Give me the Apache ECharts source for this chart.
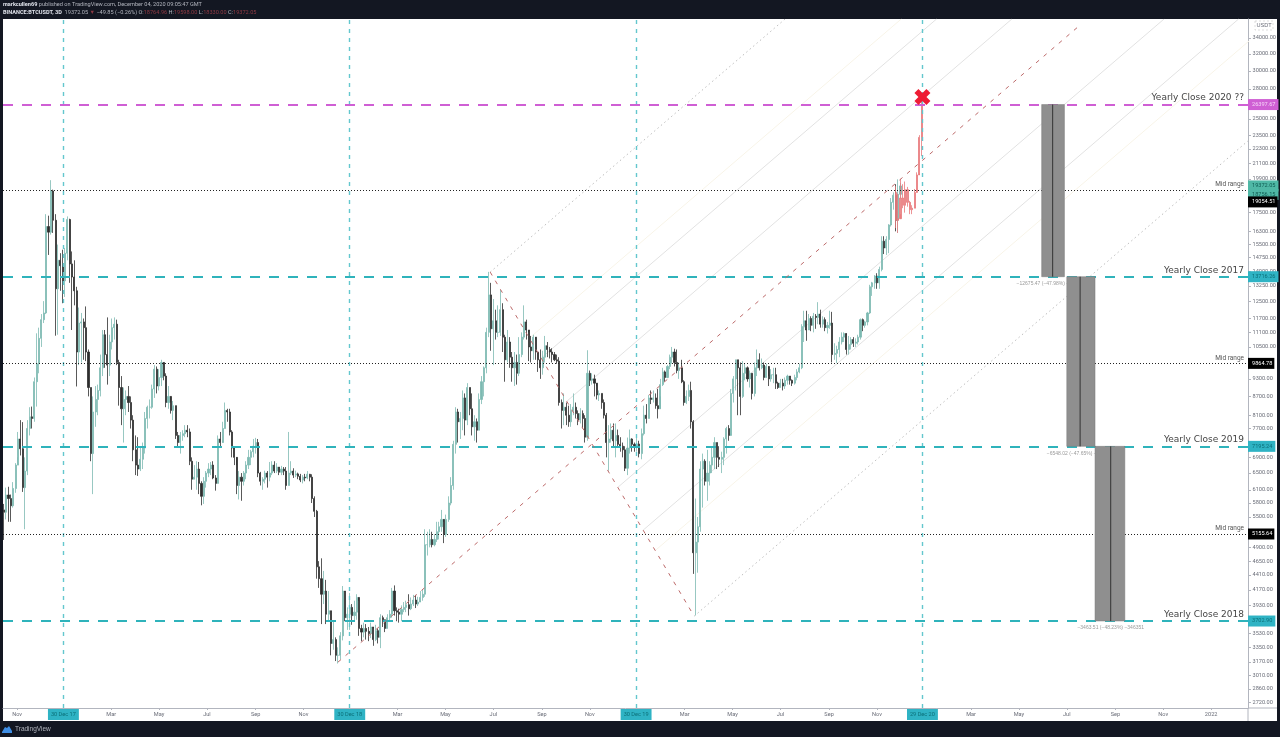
<!DOCTYPE html>
<html>
<head>
<meta charset="utf-8">
<title>BTCUSDT 3D</title>
<style>
  html, body { margin: 0; padding: 0; background: #fff; }
  #main { width: 1280px; height: 737px; }
</style>
<script src="https://cdn.jsdelivr.net/npm/echarts@6/dist/echarts.min.js"></script>
</head>
<body>
<div id="main"></div>
<script>
// 3 day bars. open of a bar = close of the bar before
var firstBarDate = '2017-10-15';
var firstOpen = 5650;
var closes = [
  5600,5980,5900,5740,6130,6700,7400,7130,6150,6550,
  7700,8050,8000,9200,9850,10850,11650,11950,16600,16250,
  19000,17000,13100,14600,14300,13500,15000,17050,14400,13700,
  13000,10300,11500,11550,11300,10300,9000,7000,8200,8600,
  8900,9700,11000,10200,9800,10700,11300,11450,9900,9000,
  8300,8600,8700,8500,7950,7100,6700,6600,6850,7150,
  8000,8350,8350,8950,9650,9050,9350,9900,9400,8500,
  8700,8250,8400,7500,7300,7500,7550,7650,7600,6800,
  6350,6400,6600,6250,5950,6300,6500,6600,6700,6380,
  6250,7400,7300,7700,8250,8200,7600,7150,6900,6200,
  6400,6300,6500,6700,6900,7050,7200,7300,6500,6300,
  6350,6500,6400,6500,6700,6550,6650,6520,6600,6550,
  6200,6500,6550,6450,6480,6420,6330,6400,6380,6470,
  6400,5900,5620,4550,4350,4100,4150,3800,3850,3400,
  3450,3250,3250,3500,4150,3750,3800,3900,3780,3830,
  4050,3600,3550,3600,3560,3530,3620,3450,3570,3480,
  3750,3720,3600,3750,3800,4150,3850,3830,3800,3870,
  3900,3940,3880,3950,4010,3950,3980,4050,4100,4950,
  4950,5050,4950,5050,5200,5300,5450,5150,5450,5800,
  6200,7250,8200,7900,8000,8650,7950,9000,8300,7750,
  7900,7650,8600,9200,9700,11100,12800,11250,11600,11100,
  11100,12100,10900,10000,10700,10100,9700,9900,9500,10200,
  10900,11550,11200,10500,10350,10900,10300,10000,9700,10100,
  10550,10400,10300,10200,10000,9950,8500,8250,8350,8100,
  7900,8250,8350,8150,7950,8150,8000,7450,9500,9250,
  9300,9150,8750,8800,8500,8100,7300,7400,7650,7350,
  7500,7250,7200,7100,6620,7150,7400,7250,7200,7260,
  7000,7550,8100,8000,8650,8600,8650,8400,8300,9100,
  9550,9350,9750,10100,10300,9900,9600,9700,9200,8500,
  8700,8900,7900,4800,5000,5300,6600,6800,6300,6500,
  6700,6900,7300,6900,6850,6900,7400,7700,7500,8800,
  9300,10000,9700,8700,9500,9700,9300,9500,8800,9700,
  10000,9700,9800,9350,9750,9300,9450,9450,9150,9000,
  9150,9050,9250,9400,9250,9150,9350,9550,9700,11350,
  11600,11200,11700,11400,11800,11750,11900,11450,11650,11300,
  11400,11500,10200,10250,10400,10700,10900,11050,10400,10600,
  10800,10650,10700,10900,11650,11400,11550,11950,13200,13400,
  13750,13400,14100,15700,15300,15800,16700,18200,18700,17000,18764.96,19372.05
];
var highs = [
  5780,6150,6170,5990,6280,6750,7600,7950,7890,6900,
  7950,8350,8370,9350,11060,11300,11900,12500,17400,17300,
  19800,19100,17400,15500,15000,15200,15300,17250,17100,15100,
  14600,13200,12200,11950,11700,12250,10400,9000,8700,9050,
  9100,10200,11200,11200,11750,11000,11700,11750,11650,10000,
  9400,9000,8900,9050,8700,8100,7500,7450,7200,7300,
  8200,8400,8600,9100,9800,9750,9650,10000,9800,9500,
  9050,8500,8550,8400,7600,7600,7650,7800,7800,7700,
  6900,6700,6800,6780,6300,6400,6550,6750,6780,6800,
  6450,7500,7600,7900,8500,8300,8300,7650,7200,6700,
  6550,6500,6550,6800,7100,7100,7400,7430,7400,6530,
  6400,6560,6550,6780,6800,6800,6750,6650,6680,6650,
  6650,7600,6800,6620,6560,6510,6480,6450,6480,6550,
  6480,6470,5950,5650,4650,4700,4480,4330,4150,3850,
  3700,3480,3350,3550,4230,4140,3900,4120,3950,4000,
  4100,4000,3650,3680,3660,3620,3680,3600,3650,3600,
  3800,3780,3700,3800,3860,4200,4240,3900,3880,3930,
  3980,4000,4100,4050,4090,4090,4060,4150,4170,5250,
  5200,5250,5200,5150,5400,5400,5650,5400,5550,5950,
  6400,7350,8350,8300,8200,8900,8800,9150,9000,8800,
  8100,8000,8800,9400,9750,11300,13970,13400,12600,12100,
  12300,13050,12400,11000,11200,10900,10300,10300,10200,10900,
  11100,12300,11650,11100,10950,11000,10800,10300,10400,10350,
  10950,10700,10500,10450,10300,10200,10100,8600,8800,8500,
  8400,8450,8800,8500,8250,8320,8250,8100,10370,9600,
  9500,9450,9050,8900,8800,8600,8170,7800,7850,7850,
  7850,7670,7450,7300,7200,7440,7670,7420,7300,7430,
  7350,7700,8400,8450,8750,8900,8900,8800,8950,9300,
  9700,9600,9800,10200,10500,10430,10400,9900,10000,9250,
  8900,9100,9200,7950,5900,5500,6800,7000,6850,7100,
  6800,7200,7450,7300,7200,7050,7450,7750,7800,8950,
  9400,10000,10000,9900,9950,9850,9750,9600,9500,9900,
  10400,10250,10050,9900,9850,9400,9650,9700,9700,9200,
  9300,9300,9350,9450,9400,9280,9450,9650,9850,11450,
  12050,12050,11900,11800,11950,11900,12450,12100,11800,11750,
  11550,12050,12000,10650,10550,10900,11100,11100,11000,10950,
  10900,10900,10850,11000,11700,11700,11600,12000,13300,13450,
  13800,13900,14250,16000,16000,16000,16750,18500,18900,19500,19863,19598
];
var lows = [
  5040,5450,5400,5400,5700,6030,6900,6950,6050,5250,
  6450,7500,7700,7900,8370,9500,10500,11500,11900,14900,
  16100,16200,10960,11000,13000,12400,12700,14600,13400,11200,
  12300,9035,9800,9900,10000,9950,8700,6800,6000,7750,
  8100,8700,9400,9700,9100,9400,10400,10800,9800,8400,
  7800,7300,8100,8200,7700,6800,6450,6430,6550,6600,
  7000,7700,8000,8300,8650,8800,8900,9050,9250,8350,
  8300,8150,7950,7400,7150,7000,7350,7450,7450,6700,
  6100,6350,6100,6000,5750,5780,6150,6400,6450,6350,
  6080,6250,7200,7350,7700,7900,7500,6900,6700,6000,
  5880,5850,6200,6350,6600,6700,6900,7000,6400,6200,
  6100,6250,6150,6300,6450,6500,6500,6450,6450,6450,
  6100,6200,6450,6380,6400,6350,6280,6250,6300,6350,
  6300,5800,5500,4350,4200,3660,3950,3660,3700,3250,
  3320,3180,3150,3200,3440,3700,3580,3580,3650,3700,
  3720,3500,3430,3480,3450,3430,3470,3370,3430,3400,
  3340,3620,3550,3600,3700,3750,3780,3700,3680,3700,
  3830,3830,3780,3860,3920,3890,3920,4000,4000,4060,
  4750,4900,4900,4920,5000,5050,5200,4980,5100,5400,
  5750,6100,7000,7300,7400,7650,7500,7800,8100,7500,
  7350,7300,7650,8450,8700,9500,10900,10350,9800,10800,
  10900,10950,10300,9200,9900,9700,9200,9050,9100,9400,
  10100,10800,10800,9950,9900,10000,10000,9550,9300,9450,
  9900,10100,10050,9900,9950,9850,8400,7700,7800,7800,
  7750,7750,8100,8000,7800,7850,7700,7300,7350,9050,
  9100,8700,8600,8550,8300,8000,6900,6560,7300,7150,
  6900,7150,7050,6900,6550,6450,7000,7050,7050,7050,
  6900,6850,7500,7850,8000,8450,8500,8300,8000,8700,
  9050,9200,9500,9650,9850,9750,9500,9300,9150,8400,
  8450,8550,7700,4430,3782,4450,5200,5700,6200,5850,
  6200,6500,6600,6600,6650,6500,6700,7000,7350,7550,
  8500,8900,8100,8100,8650,9250,9200,9000,8600,8700,
  9400,9600,9650,9250,9400,9050,9200,9150,8950,8950,
  9000,8900,8950,9100,9100,9050,9100,9250,9500,9650,
  10700,10750,11200,11150,11100,11250,11450,11300,11300,11150,
  11050,11250,9900,10000,9880,10100,10600,10700,10200,10200,
  10400,10500,10500,10600,10800,11150,11300,11400,11900,12750,
  13100,13100,13100,14000,14950,14900,15000,16600,17700,16300,16200,18330
];

// the pink projected bars at the end
var pinkFirstDate = '2020-11-25';
var pinkFirstOpen = 18900;
var pinkCloses = [17000,17100,18500,18000,19100,18200,17700,17800,18900,20200,23300,26300];
var pinkHighs = [19350,18800,19900,19500,19700,19300,18300,18000,19150,20400,23500,27000];
var pinkLows = [16500,16200,17400,17800,17500,17900,17400,17400,17800,19000,20300,21700];

// price axis
var yMin = 2660;
var yMax = 36550;
var priceTicks = [34000,32000,30000,28000,25000,23500,22300,21100,19900,17500,16300,15500,14750,14000,13250,12500,
  11700,11100,10500,9300,8700,8100,7700,6900,6500,6100,5800,5500,4900,4650,4410,4170,3930,3530,3350,3170,3010,2860,2720];
var priceTagValues = [26397.67,19372.05,18756.15,18230,13716.26,9864.78,7195.24,5155.64,3702.90];
var priceTagTexts = ['26397.67','19372.05','18756.15','19054.51','13716.26','9864.78','7195.24','5155.64','3702.90'];
var priceTagStyles = ['magenta','green','green','black','teal','black','teal','black','teal'];

// time axis
var xMin = '2017-10-14';
var xMax = '2022-02-17';
var monthTickDates = ['2017-11-01','2017-12-30','2018-03-01','2018-05-01','2018-07-01','2018-09-01','2018-11-01','2018-12-30',
  '2019-03-01','2019-05-01','2019-07-01','2019-09-01','2019-11-01','2019-12-30','2020-03-01','2020-05-01','2020-07-01',
  '2020-09-01','2020-11-01','2020-12-29','2021-03-01','2021-05-01','2021-07-01','2021-09-01','2021-11-01','2022-01-01'];
var monthTickTexts = ['Nov','30 Dec 17','Mar','May','Jul','Sep','Nov','30 Dec 18','Mar','May','Jul','Sep','Nov','30 Dec 19',
  'Mar','May','Jul','Sep','Nov','29 Dec 20','Mar','May','Jul','Sep','Nov','2022'];

// drawn levels
var yearLineDates = ['2017-12-30','2018-12-30','2019-12-30','2020-12-29'];
var closeLevels = [26397.67,13716.26,7195.24,3702.90];
var closeLevelNames = ['Yearly Close 2020 ??','Yearly Close 2017','Yearly Close 2019','Yearly Close 2018'];
var closeLevelColors = ['#cf5fd4','#2fb3bb','#2fb3bb','#2fb3bb'];
var midLevels = [19054.51,9864.78,5155.64];

// pitchfork, [start date, start price, end date, end price]
var forkRed = [
  ['2018-12-15',3167,'2021-07-18',35720],
  ['2019-06-27',13960,'2020-03-13',3772]
];
var forkDotted = [
  ['2019-06-27',13960,'2020-07-07',36550],
  ['2020-03-13',3772,'2022-08-17',36550]
];
var forkGrey = [
  ['2019-08-31',10066,'2021-01-16',36550],
  ['2019-10-03',8549,'2021-04-22',36550],
  ['2019-12-07',6162,'2021-11-02',36550],
  ['2020-01-08',5232,'2022-02-05',36550]
];
var forkCream = [
  ['2019-08-16',10860,'2020-12-02',36550],
  ['2020-01-24',4849,'2022-03-23',36550]
];

// price range boxes
var rangeStarts = ['2021-05-30','2021-07-01','2021-08-06'];
var rangeEnds = ['2021-06-28','2021-08-06','2021-09-13'];
var rangeMids = ['2021-06-13','2021-07-18','2021-08-26'];
var rangeTops = [26397.67,13716.26,7195.24];
var rangeBottoms = [13716.26,7195.24,3702.90];
var rangeTexts = ['\u221212675.47 (\u221247.98%) \u22121267547','\u22126548.02 (\u221247.65%) \u2212654802','\u22123463.51 (\u221248.23%) \u2212346351'];

var crossPoint = ['2020-12-29',27170];

function day(s) {
  return +new Date(s + 'T00:00:00Z');
}

var DAY3 = 3 * 24 * 3600 * 1000;

function buildBars(startDate, open, c, h, l) {
  var out = [];
  var t = day(startDate);
  var prev = open;
  for (var i = 0; i < c.length; i++) {
    out.push([t + i * DAY3, prev, c[i], l[i], h[i]]);
    prev = c[i];
  }
  return out;
}

function tineSeries(list, color, width, dash, z) {
  return list.map(function (p) {
    return {
      type: 'line',
      silent: true,
      symbol: 'none',
      z: z,
      lineStyle: { color: color, width: width, type: dash },
      data: [[day(p[0]), p[1]], [day(p[2]), p[3]]]
    };
  });
}

var xLabels = {};
var monthTickValues = monthTickDates.map(function (d, i) {
  xLabels[day(d)] = monthTickTexts[i];
  return day(d);
});

var markLines = [];
yearLineDates.forEach(function (d) {
  markLines.push({ xAxis: day(d), label: { show: false }, lineStyle: { color: '#63c7ce', width: 1.4, type: [4, 5] } });
});
midLevels.forEach(function (v) {
  markLines.push({
    yAxis: v,
    lineStyle: { color: '#222', width: 1, type: [1, 2] },
    label: { show: true, position: 'insideEndTop', formatter: 'Mid range', fontSize: 6.5, color: '#555', distance: 2, padding: [0, 2, 0, 0] }
  });
});
closeLevels.forEach(function (v, i) {
  markLines.push({
    yAxis: v,
    lineStyle: { color: closeLevelColors[i], width: 2, type: [10, 9] },
    label: { show: true, position: 'insideEndTop', formatter: closeLevelNames[i], fontSize: 9, color: '#444', distance: 2, padding: [0, 2, 0, 0], fontFamily: 'DejaVu Sans' }
  });
});

var rangeData = rangeStarts.map(function (s, i) {
  return [day(s), day(rangeEnds[i]), rangeTops[i], rangeBottoms[i], day(rangeMids[i])];
});

var option = {
  animation: false,
  backgroundColor: '#ffffff',
  textStyle: { fontFamily: 'Roboto' },
  title: [
    {
      left: 3, top: 2, padding: 0,
      text: '{b|markcullen69} published on TradingView.com, December 04, 2020 09:05:47 GMT',
      textStyle: { fontSize: 5.6, fontWeight: 'normal', color: '#b2b5be', rich: { b: { fontSize: 5.6, fontWeight: 'bold', color: '#e0e3eb' } } }
    },
    {
      left: 3, top: 9.5, padding: 0,
      text: '{b|BINANCE:BTCUSDT, 3D}  19372.05 {r|\u25BC} \u221249.85 (\u22120.26%) O:{r|18764.96} H:{r|19598.00} L:{r|18330.00} C:{r|19372.05}',
      textStyle: {
        fontSize: 5.6, fontWeight: 'normal', color: '#b2b5be',
        rich: { b: { fontSize: 5.6, fontWeight: 'bold', color: '#e0e3eb' }, r: { fontSize: 5.6, color: '#8f3a44' } }
      }
    }
  ],
  grid: { left: 3, right: 32, top: 19, bottom: 29, outerBoundsMode: 'none' },
  xAxis: {
    type: 'value',
    min: day(xMin),
    max: day(xMax),
    splitLine: { show: false },
    axisLine: { onZero: false, lineStyle: { color: '#b2b5be', width: 1 } },
    axisTick: { length: 2, customValues: monthTickValues, lineStyle: { color: '#b2b5be' } },
    axisLabel: {
      customValues: monthTickValues,
      margin: 1,
      hideOverlap: false,
      showMinLabel: true,
      showMaxLabel: true,
      formatter: function (v) {
        var text = xLabels[v] || '';
        return text.indexOf('Dec') > 0 ? '{tag|' + text + '}' : '{plain|' + text + '}';
      },
      rich: {
        plain: { fontSize: 5.6, color: '#6a6d78', padding: [3, 0, 0, 0] },
        tag: { fontSize: 5.6, color: '#0b6f78', backgroundColor: '#2fb3c4', padding: [3, 3, 2, 3] }
      }
    }
  },
  yAxis: {
    type: 'log',
    position: 'right',
    min: yMin,
    max: yMax,
    splitLine: { show: false },
    axisLine: { show: true, lineStyle: { color: '#b2b5be', width: 1 } },
    axisTick: { length: 3, customValues: priceTicks, lineStyle: { color: '#b2b5be' } },
    axisLabel: {
      customValues: priceTicks.concat(priceTagValues),
      margin: 0,
      hideOverlap: false,
      formatter: function (v) {
        var k = priceTagValues.indexOf(v);
        if (k >= 0) {
          return '{' + priceTagStyles[k] + '|' + priceTagTexts[k] + '}';
        }
        return '{plain|' + v.toFixed(2) + '}';
      },
      rich: {
        plain: { fontSize: 5.6, color: '#6a6d78', padding: [0, 0, 0, 4.5] },
        magenta: { fontSize: 5.6, color: '#f6d5f8', backgroundColor: '#cf5fd4', padding: [2.5, 3, 2.5, 4] },
        green: { fontSize: 5.6, color: '#0f5c52', backgroundColor: '#4fb8a6', padding: [2.5, 3, 2.5, 4] },
        teal: { fontSize: 5.6, color: '#0b6f78', backgroundColor: '#2fb3c4', padding: [2.5, 3, 2.5, 4] },
        black: { fontSize: 5.6, color: '#ffffff', backgroundColor: '#000000', padding: [2.5, 2, 2.5, 4] }
      }
    }
  },
  series: [].concat(
    tineSeries(forkCream, '#f8f4e8', 1, 'solid', 1),
    tineSeries(forkGrey, '#e2e2e2', 1, 'solid', 1),
    tineSeries(forkDotted, '#bdbdbd', 1, [1.5, 3], 1),
    [
      {
        name: 'BTCUSDT',
        type: 'candlestick',
        z: 3,
        barWidth: 1.6,
        encode: { x: 0, y: [1, 2, 3, 4] },
        itemStyle: { color: '#7dbab2', color0: '#2e2e2e', borderColor: '#7dbab2', borderColor0: '#2e2e2e', borderWidth: 0.8 },
        data: buildBars(firstBarDate, firstOpen, closes, highs, lows),
        markLine: { silent: true, symbol: 'none', animation: false, data: markLines }
      },
      {
        name: 'Projection',
        type: 'candlestick',
        z: 4,
        barWidth: 1.6,
        encode: { x: 0, y: [1, 2, 3, 4] },
        itemStyle: { color: '#ea8f90', color0: '#ea8f90', borderColor: '#e9797b', borderColor0: '#e9797b', borderWidth: 0.8 },
        data: buildBars(pinkFirstDate, pinkFirstOpen, pinkCloses, pinkHighs, pinkLows)
      }
    ],
    tineSeries(forkRed, '#bd6a6a', 1, [4, 6], 5),
    [
      {
        name: 'Ranges',
        type: 'custom',
        z: 6,
        silent: true,
        clip: false,
        encode: { x: [0, 1, 4], y: [2, 3] },
        data: rangeData,
        renderItem: function (params, api) {
          var p1 = api.coord([api.value(0), api.value(2)]);
          var p2 = api.coord([api.value(1), api.value(3)]);
          var mid = api.coord([api.value(4), api.value(2)]);
          return {
            type: 'group',
            children: [
              { type: 'rect', shape: { x: p1[0], y: p1[1], width: p2[0] - p1[0], height: p2[1] - p1[1] },
                style: { fill: '#8f8f8f', stroke: '#7a7a7a', lineWidth: 0.5 } },
              { type: 'line', shape: { x1: mid[0], y1: p1[1], x2: mid[0], y2: p2[1] }, style: { stroke: '#333', lineWidth: 1 } },
              { type: 'text', x: mid[0], y: p2[1] + 7,
                style: { text: rangeTexts[params.dataIndex], fontSize: 5, fill: '#9a9a9a', align: 'center', verticalAlign: 'middle' } }
            ]
          };
        }
      },
      {
        name: 'Cross',
        type: 'scatter',
        z: 8,
        silent: true,
        symbol: 'path://M3 0 L6 3 L9 0 L12 3 L9 6 L12 9 L9 12 L6 9 L3 12 L0 9 L3 6 L0 3 Z',
        symbolSize: 16,
        itemStyle: { color: '#ee1c34', opacity: 1 },
        data: [[day(crossPoint[0]), crossPoint[1]]]
      }
    ]
  ),
  graphic: [
    { type: 'rect', z: -1, shape: { x: 0, y: 0, width: 1280, height: 19 }, style: { fill: '#131722' } },
    { type: 'rect', z: -1, shape: { x: 0, y: 0, width: 3, height: 737 }, style: { fill: '#131722' } },
    { type: 'rect', z: -1, shape: { x: 1277, y: 0, width: 3, height: 737 }, style: { fill: '#131722' } },
    { type: 'rect', z: -1, shape: { x: 0, y: 721, width: 1280, height: 16 }, style: { fill: '#131722' } },
    { type: 'line', z: 1, shape: { x1: 1248, y1: 708, x2: 1248, y2: 721 }, style: { stroke: '#b2b5be', lineWidth: 1 } },
    { type: 'line', z: 1, shape: { x1: 1248, y1: 708, x2: 1277, y2: 708 }, style: { stroke: '#b2b5be', lineWidth: 1 } },
    { type: 'rect', z: 1, shape: { x: 1255, y: 21, width: 18, height: 9 }, style: { fill: '#fff', stroke: '#b8b8b8', lineWidth: 0.5, lineDash: [2, 2] } },
    { type: 'text', z: 2, x: 1264, y: 25.5, style: { text: 'USDT', fontSize: 5.6, fill: '#6a6d78', align: 'center', verticalAlign: 'middle' } },
    { type: 'polygon', z: 2, shape: { points: [[2, 732], [5, 727], [7, 728], [9, 726], [12, 731], [12, 733], [2, 733]] }, style: { fill: '#3f8fe6' } },
    { type: 'text', z: 2, x: 15, y: 729.5, style: { text: 'TradingView', fontSize: 6.5, fill: '#b2b5be', verticalAlign: 'middle' } }
  ]
};

var chart = echarts.init(document.getElementById('main'), null, { renderer: 'canvas' });
chart.setOption(option);
</script>
</body>
</html>
